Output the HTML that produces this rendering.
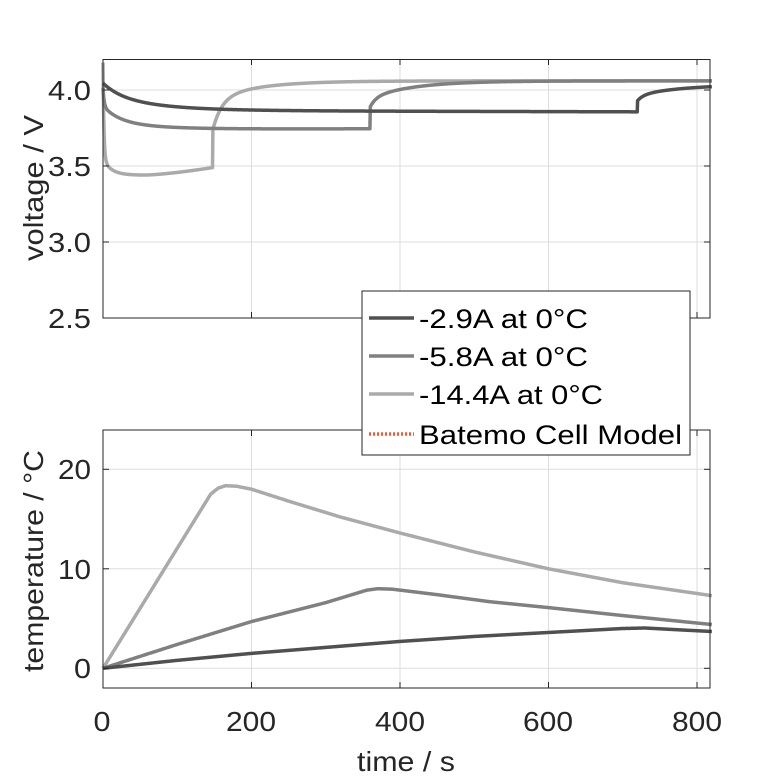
<!DOCTYPE html>
<html><head><meta charset="utf-8"><style>
body{margin:0;background:#fff}
svg{display:block}
text{font-family:"Liberation Sans",sans-serif;fill:#262626}
</style></head><body>
<svg id="s" width="781" height="781" viewBox="0 0 781 781" xmlns="http://www.w3.org/2000/svg">
<rect width="781" height="781" fill="#fff"/>
<g id="grid" stroke="#dedede" stroke-width="1"></g>
<g id="curves" fill="none" stroke-width="3.5" stroke-linejoin="round"></g>
<g fill="none" stroke="#262626" stroke-width="1">
<rect x="103" y="59.5" width="607" height="258.5"/>
<rect x="103" y="430" width="607" height="258"/>
</g>
<g id="ticks" stroke="#262626" stroke-width="1"></g>
<g font-size="28" text-anchor="end">
<text x="91" y="100" textLength="43" lengthAdjust="spacingAndGlyphs">4.0</text>
<text x="91" y="176" textLength="43" lengthAdjust="spacingAndGlyphs">3.5</text>
<text x="91" y="252" textLength="43" lengthAdjust="spacingAndGlyphs">3.0</text>
<text x="91" y="328" textLength="43" lengthAdjust="spacingAndGlyphs">2.5</text>
<text x="91" y="479" textLength="33" lengthAdjust="spacingAndGlyphs">20</text>
<text x="91" y="579" textLength="33" lengthAdjust="spacingAndGlyphs">10</text>
<text x="91" y="678" textLength="17" lengthAdjust="spacingAndGlyphs">0</text>
</g>
<g font-size="28" text-anchor="middle">
<text x="102" y="731" textLength="17" lengthAdjust="spacingAndGlyphs">0</text>
<text x="251" y="731" textLength="50" lengthAdjust="spacingAndGlyphs">200</text>
<text x="400" y="731" textLength="50" lengthAdjust="spacingAndGlyphs">400</text>
<text x="548" y="731" textLength="50" lengthAdjust="spacingAndGlyphs">600</text>
<text x="697" y="731" textLength="50" lengthAdjust="spacingAndGlyphs">800</text>
<text x="406" y="771" textLength="98" lengthAdjust="spacingAndGlyphs">time / s</text>
<text transform="translate(43,188) rotate(-90)" textLength="146" lengthAdjust="spacingAndGlyphs">voltage / V</text>
<text transform="translate(43,561) rotate(-90)" textLength="222" lengthAdjust="spacingAndGlyphs">temperature / °C</text>
</g>
<g>
<rect x="362" y="291" width="328" height="164" fill="#fff" stroke="#262626" stroke-width="1"/>
<line x1="369" y1="318" x2="414" y2="318" stroke="#505050" stroke-width="3.5"/>
<line x1="369" y1="356" x2="414" y2="356" stroke="#808080" stroke-width="3.5"/>
<line x1="369" y1="394" x2="414" y2="394" stroke="#aaaaaa" stroke-width="3.5"/>
<line x1="369" y1="434" x2="414" y2="434" stroke="#e8602c" stroke-width="3.5" stroke-dasharray="2,2"/>
<g font-size="27">
<text x="419" y="328" style="fill:#000" textLength="169" lengthAdjust="spacingAndGlyphs">-2.9A at 0°C</text>
<text x="419" y="366" style="fill:#000" textLength="169" lengthAdjust="spacingAndGlyphs">-5.8A at 0°C</text>
<text x="419" y="404" style="fill:#000" textLength="184" lengthAdjust="spacingAndGlyphs">-14.4A at 0°C</text>
<text x="419" y="444" style="fill:#000" textLength="263" lengthAdjust="spacingAndGlyphs">Batemo Cell Model</text>
</g>
</g>
</svg>
<script>
var NS="http://www.w3.org/2000/svg";
function X(t){return 103+t*0.7425;}
function VY(v){return 90-(v-4.0)*152;}
function TY(T){return 668.3-T*9.95;}
function el(p,tag,a){var e=document.createElementNS(NS,tag);for(var k in a)e.setAttribute(k,a[k]);p.appendChild(e);}
var g=document.getElementById('grid'),tk=document.getElementById('ticks');
[200,400,600,800].forEach(function(t){var x=X(t);
el(g,'line',{x1:x,y1:59.5,x2:x,y2:318});el(g,'line',{x1:x,y1:430,x2:x,y2:688});
el(tk,'line',{x1:x,y1:318,x2:x,y2:312});el(tk,'line',{x1:x,y1:59.5,x2:x,y2:65});
el(tk,'line',{x1:x,y1:688,x2:x,y2:682});el(tk,'line',{x1:x,y1:430,x2:x,y2:436});});
[4.0,3.5,3.0].forEach(function(v){var y=VY(v);el(g,'line',{x1:103,y1:y,x2:710,y2:y});
el(tk,'line',{x1:103,y1:y,x2:109,y2:y});el(tk,'line',{x1:710,y1:y,x2:704,y2:y});});
[20,10,0].forEach(function(T){var y=TY(T);el(g,'line',{x1:103,y1:y,x2:710,y2:y});
el(tk,'line',{x1:103,y1:y,x2:109,y2:y});el(tk,'line',{x1:710,y1:y,x2:704,y2:y});});
var c=document.getElementById('curves');
function path(f,t0,t1,Y,col){var d="";for(var t=t0;t<=t1+1e-9;t+=0.5){var v=f(t);d+=(d?"L":"M")+X(t).toFixed(2)+","+Y(v).toFixed(2);}el(c,'path',{d:d,stroke:col});}
function vDark(t){if(t<720)return 3.865+0.08*Math.exp(-t/25)+0.1*Math.exp(-t/70)-0.000012*t;
 return 3.93+0.035*(1-Math.exp(-(t-720)/8))+0.07*(1-Math.exp(-(t-720)/60));}
function vMid(t){if(t<360)return 3.745+0.12*Math.exp(-t/1.5)+0.1*Math.exp(-t/22)+0.05*Math.exp(-t/60)-0.008*(1-Math.exp(-t/150))+0.00002*t;
 return 3.89+0.06*(1-Math.exp(-(t-360)/8))+0.11*(1-Math.exp(-(t-360)/60));}
function vLight(t){if(t<148){var b=t<56?3.44+0.01*Math.pow((56-t)/56,2):3.44+0.05*Math.pow((t-56)/92,1.4);
 return b+0.63*Math.exp(-t/1.2)+0.1*Math.exp(-t/10);}
 return 3.74+0.2*(1-Math.exp(-(t-148)/12))+0.12*(1-Math.exp(-(t-148)/60));}
path(vLight,0,820,VY,"#aaaaaa");
path(vMid,0,820,VY,"#808080");
path(vDark,0,820,VY,"#505050");
function interp(pts){return function(t){for(var i=1;i<pts.length;i++){if(t<=pts[i][0]){var a=pts[i-1],b=pts[i];return a[1]+(b[1]-a[1])*(t-a[0])/(b[0]-a[0]);}}return pts[pts.length-1][1];};}
var tL=interp([[0,0],[145,17.5],[155,18.1],[165,18.35],[180,18.3],[200,18.0],[250,16.8],[320,15.2],[400,13.6],[500,11.7],[600,10.0],[700,8.6],[820,7.3]]);
var tM=interp([[0,0],[100,2.4],[200,4.7],[300,6.6],[355,7.85],[370,8.0],[390,7.95],[450,7.4],[520,6.7],[600,6.1],[700,5.3],[820,4.4]]);
var tD=interp([[0,0],[100,0.8],[200,1.5],[300,2.1],[400,2.7],[500,3.2],[600,3.6],[700,4.0],[730,4.05],[780,3.85],[820,3.7]]);
path(tL,0,820,TY,"#aaaaaa");path(tM,0,820,TY,"#808080");path(tD,0,820,TY,"#505050");
</script>
</body></html>
